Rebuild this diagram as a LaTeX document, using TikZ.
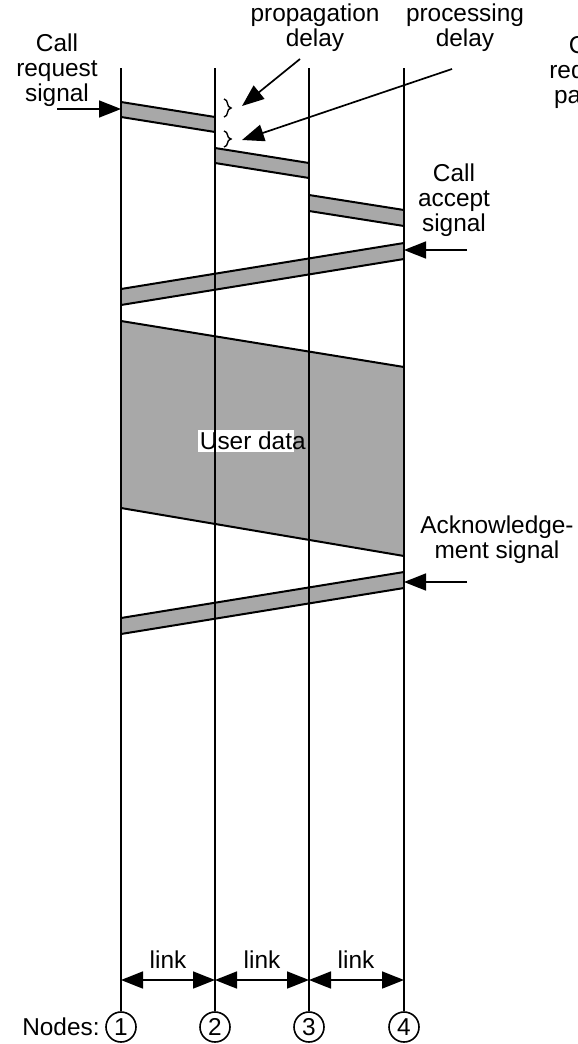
\documentclass[tikz,border=0pt]{standalone}
\usepackage{fontspec}
\setmainfont{Liberation Sans}
\usetikzlibrary{arrows.meta,decorations.pathreplacing}
\definecolor{bargray}{RGB}{168,168,168}
\begin{document}
\begin{tikzpicture}[x=0.5pt,y=-0.5pt,
  txt/.style={font=\fontsize{12.2}{12.5}\selectfont, align=center, inner sep=0pt},
  nodeline/.style={line width=0.85pt},
  edge/.style={line width=1pt},
  bar/.style={fill=bargray},
  tip/.style={-{Triangle[length=11pt,width=8.5pt]}, line width=0.85pt},
  bitip/.style={{Triangle[length=11pt,width=8.5pt]}-{Triangle[length=11pt,width=8.5pt]}, line width=0.85pt},
  circ/.style={circle, draw, line width=0.8pt, minimum size=15pt, inner sep=0pt, font=\fontsize{12.2}{12}\selectfont},
  dly/.style={decorate, decoration={brace, amplitude=3.5pt}, line width=0.7pt}]
\useasboundingbox (0,0) rectangle (578,1044);
\clip (0,0) rectangle (578,1044);

% node markers at the bottom
\node[circ] (n1) at (121,1027) {1};
\node[circ] (n2) at (215,1027) {2};
\node[circ] (n3) at (309,1027) {3};
\node[circ] (n4) at (404,1027) {4};
\node[txt, anchor=east] (nodes) at (100,1027) {Nodes:};

% tops of the node time lines
\coordinate (t1) at (121,68);
\coordinate (t2) at (215,68);
\coordinate (t3) at (309,68);
\coordinate (t4) at (404,68);

% call request packet, hop by hop
\path[bar] (121,102) -- (215,117) -- (215,132) -- (121,117) -- cycle;
\draw[edge] (121,102) -- (215,117);
\draw[edge] (121,117) -- (215,132);
\path[bar] (215,148) -- (309,163) -- (309,178) -- (215,163) -- cycle;
\draw[edge] (215,148) -- (309,163);
\draw[edge] (215,163) -- (309,178);
\path[bar] (309,195) -- (404,210) -- (404,226) -- (309,211) -- cycle;
\draw[edge] (309,195) -- (404,210);
\draw[edge] (309,211) -- (404,226);

% call accept packet
\path[bar] (404,243) -- (121,289) -- (121,305) -- (404,259) -- cycle;
\draw[edge] (404,243) -- (121,289);
\draw[edge] (404,259) -- (121,305);

% user data
\path[bar] (121,321) -- (404,367) -- (404,556) -- (121,508) -- cycle;
\draw[edge] (121,321) -- (404,367);
\draw[edge] (121,508) -- (404,556);
\node[txt, fill=white, inner sep=1pt, anchor=center] (data) at (246,441) {User dat\rlap{a}};

% acknowledgement packet
\path[bar] (404,572) -- (121,618) -- (121,634) -- (404,588) -- cycle;
\draw[edge] (404,572) -- (121,618);
\draw[edge] (404,588) -- (121,634);

% time lines
\draw[nodeline] (t1) -- (n1.north);
\draw[nodeline] (t2) -- (n2.north);
\draw[nodeline] (t3) -- (n3.north);
\draw[nodeline] (t4) -- (n4.north);

% delay braces beside node 2
\draw[dly] (224,99) -- (224,117);
\draw[dly] (224,131) -- (224,147);
\coordinate (pdtip) at (242,106);
\coordinate (prtip) at (242,140);

% labels
\node[txt] (creq) at (57,70) {Call\\request\\signal};
\node[txt] (prop) at (315,28) {propagation\\delay};
\node[txt] (proc) at (465,28) {processing\\delay};
\node[txt] (cpkt) at (590,72) {Call\\request\\packet};
\node[txt] (cacc) at (454,200) {Call\\accept\\signal};
\node[txt] (ack) at (497,540) {Acknowledge-\\ment signal};

% pointers
\coordinate (creqs) at (57,109);
\coordinate (creqe) at (121,109);
\draw[tip] (creqs) -- (creqe);
\coordinate (propS) at (300,59);
\draw[tip] (propS) -- (pdtip);
\coordinate (procS) at (452,69);
\draw[tip] (procS) -- (prtip);
\coordinate (caccs) at (467,250);
\coordinate (cacce) at (404,250);
\draw[tip] (caccs) -- (cacce);
\coordinate (acks) at (467,582);
\coordinate (acke) at (404,582);
\draw[tip] (acks) -- (acke);

% links between neighbouring nodes
\coordinate (k1) at (121,980);
\coordinate (k2) at (215,980);
\coordinate (k3) at (309,980);
\coordinate (k4) at (404,980);
\draw[bitip] (k1) -- (k2);
\draw[bitip] (k2) -- (k3);
\draw[bitip] (k3) -- (k4);
\node[txt] (lk1) at (168,960) {link};
\node[txt] (lk2) at (262,960) {link};
\node[txt] (lk3) at (356,960) {link};
\end{tikzpicture}
\end{document}
